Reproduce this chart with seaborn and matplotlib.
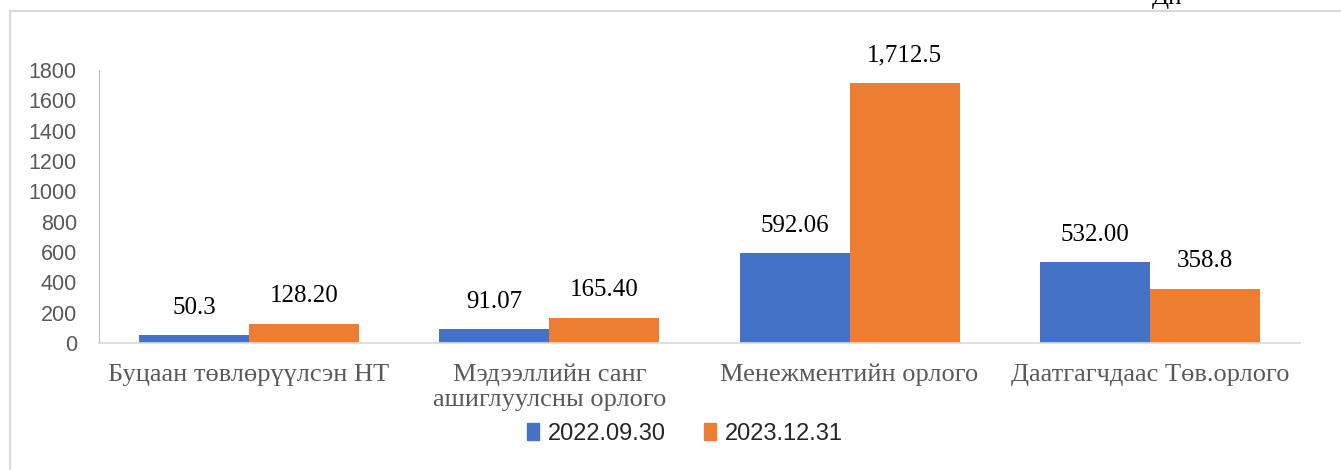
import matplotlib.pyplot as plt
import pandas as pd
import seaborn as sns
from matplotlib.lines import Line2D

# chart data
categories = ["Буцаан төвлөрүүлсэн НТ",
              "Мэдээллийн санг\nашиглуулсны орлого",
              "Менежментийн орлого",
              "Даатгагчдаас Төв.орлого"]
series_names = ["2022.09.30", "2023.12.31"]
values_2022 = [50.3, 91.07, 592.06, 532.00]
values_2023 = [128.20, 165.40, 1712.5, 358.8]
labels_2022 = ["50.3", "91.07", "592.06", "532.00"]
labels_2023 = ["128.20", "165.40", "1,712.5", "358.8"]
y_ticks = [0, 200, 400, 600, 800, 1000, 1200, 1400, 1600, 1800]

colors = ["#4472C4", "#ED7D31"]
serif = "Liberation Serif"
sans = "Liberation Sans"

df = pd.DataFrame({
    "category": categories * 2,
    "series": [series_names[0]] * 4 + [series_names[1]] * 4,
    "value": values_2022 + values_2023,
    "label": labels_2022 + labels_2023,
})

sns.set_style("white")
plt.rcParams["font.family"] = [sans, "DejaVu Sans"]

fig = plt.figure(figsize=(13.41, 4.70), dpi=100)
ax = fig.add_axes([99 / 1341, 1 - 343 / 470, 1201 / 1341, 273 / 470])

sns.barplot(data=df, x="category", y="value", hue="series", palette=colors,
            width=0.733, gap=0, dodge=True, linewidth=0, saturation=1,
            legend=False, ax=ax)

for container, labels in zip(ax.containers, [labels_2022, labels_2023]):
    ax.bar_label(container, labels=labels, padding=12, fontsize=18,
                 family=serif, color="black")

ax.set_ylim(0, 1800)
ax.set_yticks(y_ticks)
ax.set_xlabel("")
ax.set_ylabel("")
ax.tick_params(axis="y", length=0, pad=16, labelsize=15.5, labelcolor="#595959")
ax.tick_params(axis="x", length=0, pad=15, labelsize=19, labelcolor="#595959")
for lab in ax.get_xticklabels():
    lab.set_family(serif)
    lab.set_linespacing(1.15)

for side in ["top", "right"]:
    ax.spines[side].set_visible(False)
ax.spines["left"].set_color("#BFBFBF")
ax.spines["bottom"].set_color("#D9D9D9")
ax.spines["bottom"].set_linewidth(1.2)

handles = [plt.Rectangle((0, 0), 1, 1, color=c) for c in colors]
fig.legend(handles, series_names, loc="center", bbox_to_anchor=(685 / 1341, 1 - 434 / 470),
           ncol=2, frameon=False, fontsize=17, handlelength=0.5, handleheight=0.7,
           handletextpad=0.4, columnspacing=1.6)

# chart frame and clipped unit text at the top
fig.add_artist(Line2D([10 / 1341, 10 / 1341], [0, 1 - 11 / 470], color="#D9D9D9", lw=1.5))
fig.add_artist(Line2D([10 / 1341, 1], [1 - 11 / 470, 1 - 11 / 470], color="#D9D9D9", lw=1.5))
fig.text(1167 / 1341, 1 - 4 / 470, "Дн", ha="center", va="baseline",
         fontsize=18, family=serif, color="black")

fig.savefig("out.png", dpi=100)
